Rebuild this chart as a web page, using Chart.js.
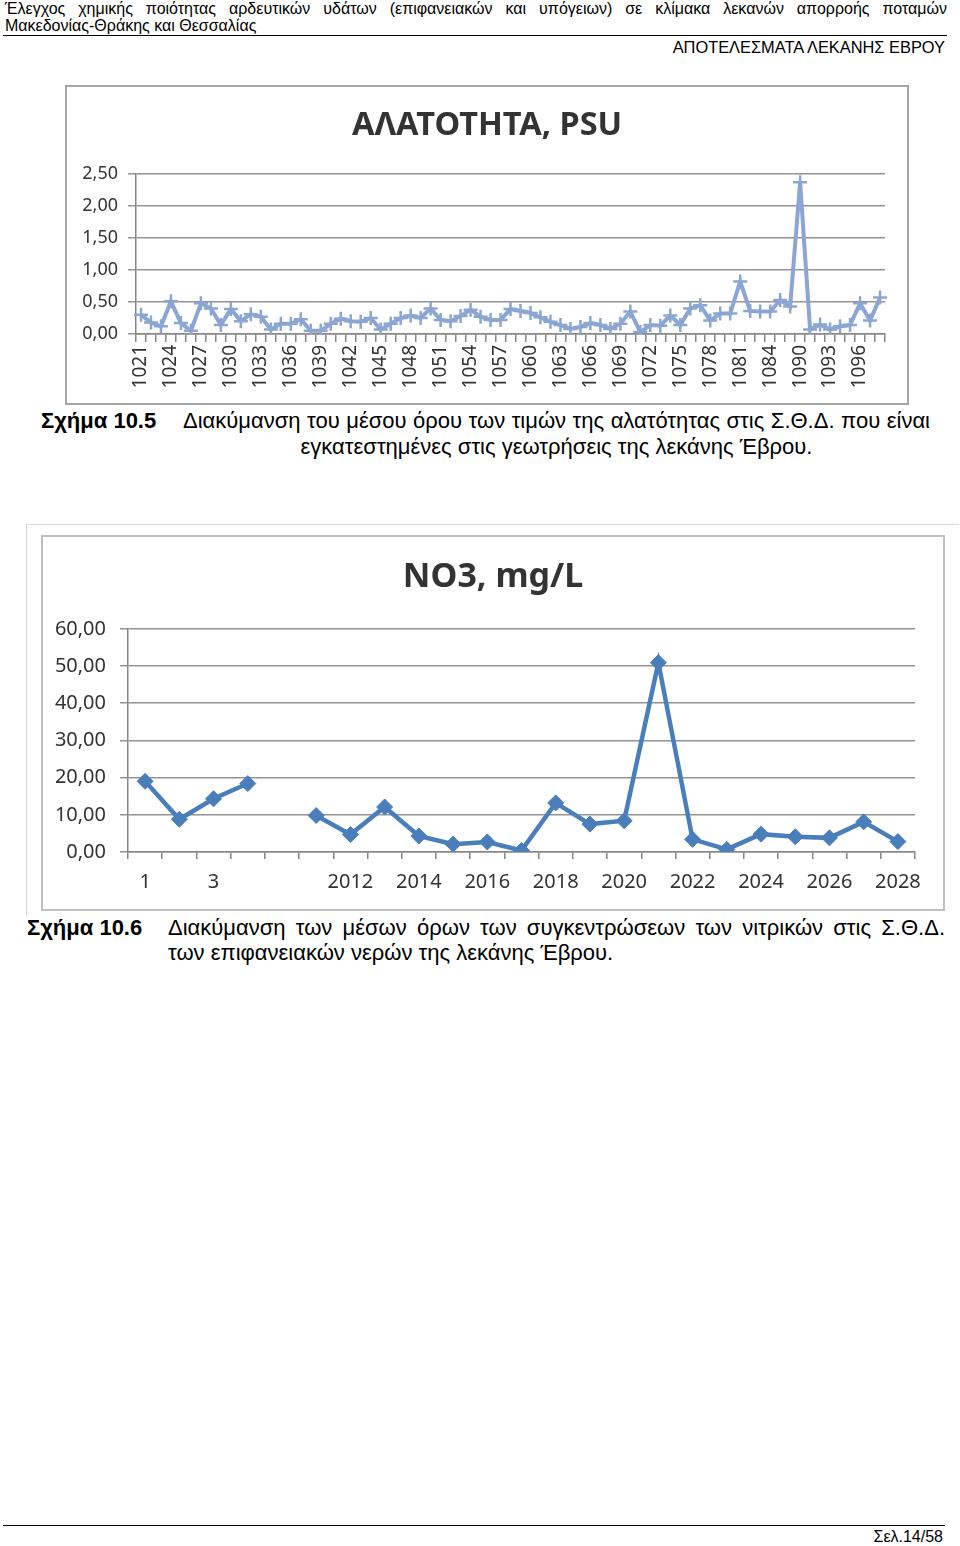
<!DOCTYPE html>
<html>
<head>
<meta charset="utf-8">
<script src="https://cdn.jsdelivr.net/npm/chart.js@4.4.1/dist/chart.umd.min.js"></script>
<style>
  html, body { margin: 0; padding: 0; background: #fff; }
  #page { position: relative; width: 960px; height: 1546px; overflow: hidden; font-family: "Liberation Sans", Arial, sans-serif; color: #000; }
  .abs { position: absolute; white-space: nowrap; }
  .just { text-align: justify; text-align-last: justify; white-space: normal; }
  canvas { position: absolute; display: block; }
</style>
</head>
<body>
<div id="page">
  <div class="abs just" style="left:5px; top:0px; width:942px; font-size:16px; line-height:17px;">Έλεγχος χημικής ποιότητας αρδευτικών υδάτων (επιφανειακών και υπόγειων) σε κλίμακα λεκανών απορροής ποταμών</div>
  <div class="abs" style="left:5px; top:17px; font-size:16px; line-height:17px;">Μακεδονίας-Θράκης και Θεσσαλίας</div>
  <div class="abs" style="left:3px; top:35px; width:944px; height:0; border-top:1px solid #000;"></div>
  <div class="abs" style="right:15px; top:39px; font-size:16.4px; line-height:17px;">ΑΠΟΤΕΛΕΣΜΑΤΑ ΛΕΚΑΝΗΣ ΕΒΡΟΥ</div>

  <!-- Chart 1 frame -->
  <div class="abs" style="left:65px; top:85px; width:840px; height:316px; border:2px solid #A6A6A6;"></div>
  <canvas id="c1" width="840" height="316" style="left:67px; top:87px;"></canvas>

  <div class="abs" style="left:41px; top:408px; font-size:22px; line-height:26px; font-weight:bold;">Σχήμα 10.5</div>
  <div class="abs" style="left:183px; top:408px; width:747px; font-size:22px; line-height:26px; white-space:normal;">
    <div style="text-align:justify; text-align-last:justify;">Διακύμανση του μέσου όρου των τιμών της αλατότητας στις Σ.Θ.Δ. που είναι</div>
    <div style="text-align:center;">εγκατεστημένες στις γεωτρήσεις της λεκάνης Έβρου.</div>
  </div>

  <!-- Chart 2 frames -->
  <div class="abs" style="left:26px; top:524px; width:932px; height:390px; border-top:1px solid #D9D9D9; border-left:1px solid #D9D9D9;"></div>
  <div class="abs" style="left:41px; top:535px; width:900px; height:372px; border:2px solid #BFBFBF;"></div>
  <canvas id="c2" width="900" height="372" style="left:43px; top:537px;"></canvas>

  <div class="abs" style="left:27px; top:915px; font-size:22px; line-height:26px; font-weight:bold;">Σχήμα 10.6</div>
  <div class="abs" style="left:168px; top:915px; width:777px; font-size:22px; line-height:25px; white-space:normal;">
    <div style="text-align:justify; text-align-last:justify;">Διακύμανση των μέσων όρων των συγκεντρώσεων των νιτρικών στις Σ.Θ.Δ.</div>
    <div style="text-align:left;">των επιφανειακών νερών της λεκάνης Έβρου.</div>
  </div>

  <div class="abs" style="left:3px; top:1525px; width:942px; height:0; border-top:1px solid #000;"></div>
  <div class="abs" style="right:17px; top:1528px; font-size:16px; line-height:18px;">Σελ.14/58</div>
</div>

<script>
// ---- Chart 1: salinity (PSU) ----
const salinityStations = [
  '1021','1022','1023','1024','1025','1026','1027','1028','1029','1030',
  '1031','1032','1033','1034','1035','1036','1037','1038','1039','1040',
  '1041','1042','1043','1044','1045','1046','1047','1048','1049','1050',
  '1051','1052','1053','1054','1055','1056','1057','1058','1059','1060',
  '1061','1062','1063','1064','1065','1066','1067','1068','1069','1070',
  '1071','1072','1073','1074','1075','1076','1077','1078','1079','1080',
  '1081','1082','1083','1084','1085','1087','1090','1091','1092','1093',
  '1094','1095','1096','1097','1098'
];
const salinityValues = [
  0.30,0.18,0.12,0.51,0.17,0.05,0.48,0.40,0.14,0.39,
  0.20,0.31,0.27,0.07,0.16,0.16,0.23,0.05,0.05,0.16,
  0.24,0.20,0.19,0.25,0.07,0.16,0.25,0.29,0.25,0.40,
  0.22,0.20,0.28,0.38,0.27,0.22,0.22,0.39,0.36,0.33,
  0.26,0.19,0.14,0.08,0.11,0.17,0.14,0.08,0.16,0.35,
  0.03,0.14,0.13,0.29,0.14,0.40,0.45,0.21,0.32,0.32,
  0.82,0.36,0.35,0.35,0.53,0.43,2.37,0.07,0.15,0.07,
  0.12,0.14,0.48,0.21,0.57
];
const salinityTicks = [0, 0.5, 1.0, 1.5, 2.0, 2.5];

// ---- Chart 2: nitrates (mg/L) ----
const no3Stations = [
  '1','2','3','4','','2011','2012','2013','2014','2015','2016','2017',
  '2018','2019','2020','2021','2022','2023','2024','2025','2026','2027','2028'
];
const no3Values = [
  19.0, 8.8, 14.3, 18.4, null, 9.8, 4.7, 12.1, 4.3, 2.1, 2.7, 0.4,
  13.2, 7.5, 8.4, 50.9, 3.4, 0.7, 4.8, 4.1, 3.8, 8.1, 2.8
];
const no3Ticks = [0, 10, 20, 30, 40, 50, 60];

const FONT = '"Noto Sans", "Open Sans", "DejaVu Sans", sans-serif';
const fmt = v => Number(v).toFixed(2).replace('.', ',');

// center the title over the whole canvas (not the padded box)
const fullWidthTitle = {
  id: 'fullWidthTitle',
  afterLayout(chart) {
    if (chart.titleBlock) { chart.titleBlock.left = 0; chart.titleBlock.right = chart.width; }
  }
};

new Chart(document.getElementById('c1'), {
  type: 'line',
  plugins: [fullWidthTitle],
  data: {
    labels: salinityStations,
    datasets: [{
      data: salinityValues,
      borderColor: '#8BA6D3',
      backgroundColor: '#8BA6D3',
      borderWidth: 4,
      pointStyle: 'cross',
      pointRadius: 7,
      pointBorderWidth: 2.5,
      tension: 0
    }]
  },
  options: {
    responsive: false, animation: false, devicePixelRatio: 1,
    layout: { padding: { left: 0, right: 22, top: 0, bottom: 0 } },
    plugins: {
      legend: { display: false }, tooltip: { enabled: false },
      title: { display: true, text: 'ΑΛΑΤΟΤΗΤΑ, PSU', color: '#333',
        font: { family: FONT, size: 32.5, weight: 'bold', lineHeight: 1.2 },
        padding: { top: 19.5, bottom: 28.5 } }
    },
    scales: {
      x: {
        offset: true,
        afterFit: s => { s.height = 69; },
        grid: { offset: true, drawOnChartArea: false, drawTicks: true, tickLength: 8, color: '#868686', lineWidth: 1.5 },
        border: { display: true, color: '#868686', width: 1.5 },
        ticks: { autoSkip: false, minRotation: 90, maxRotation: 90, padding: 3, color: '#333',
          font: { family: FONT, size: 19 },
          callback: function(v, i) { return i % 3 === 0 ? this.getLabelForValue(v) : ''; } }
      },
      y: {
        min: 0, max: 2.5,
        afterFit: s => { s.width = 69; },
        afterBuildTicks: s => { s.ticks = salinityTicks.map(v => ({ value: v })); },
        grid: { color: '#939393', lineWidth: 1.5, drawTicks: true, tickLength: 8 },
        border: { display: true, color: '#868686', width: 1.5 },
        ticks: { padding: 10, color: '#333', font: { family: FONT, size: 18 }, callback: v => fmt(v) }
      }
    }
  }
});

new Chart(document.getElementById('c2'), {
  type: 'line',
  plugins: [fullWidthTitle],
  data: {
    labels: no3Stations,
    datasets: [{
      data: no3Values,
      borderColor: '#4A7EBB',
      backgroundColor: '#4A7EBB',
      borderWidth: 4.5,
      pointStyle: 'rectRot',
      pointRadius: 8,
      pointBorderWidth: 1,
      spanGaps: false,
      tension: 0
    }]
  },
  options: {
    responsive: false, animation: false, devicePixelRatio: 1,
    layout: { padding: { left: 0, right: 28, top: 0, bottom: 0 } },
    plugins: {
      legend: { display: false }, tooltip: { enabled: false },
      title: { display: true, text: 'NO3, mg/L', color: '#333',
        font: { family: FONT, size: 34, weight: 'bold', lineHeight: 1.2 },
        padding: { top: 20, bottom: 31 } }
    },
    scales: {
      x: {
        offset: true,
        afterFit: s => { s.height = 57; },
        grid: { offset: true, drawOnChartArea: false, drawTicks: true, tickLength: 7, color: '#868686', lineWidth: 1.5 },
        border: { display: true, color: '#868686', width: 1.5 },
        ticks: { autoSkip: false, maxRotation: 0, minRotation: 0, padding: 11, color: '#333',
          font: { family: FONT, size: 20 },
          callback: function(v, i) { return i % 2 === 0 ? this.getLabelForValue(v) : ''; } }
      },
      y: {
        min: 0, max: 60,
        afterFit: s => { s.width = 85; },
        afterBuildTicks: s => { s.ticks = no3Ticks.map(v => ({ value: v })); },
        grid: { color: '#939393', lineWidth: 1.5, drawTicks: true, tickLength: 8 },
        border: { display: true, color: '#868686', width: 1.5 },
        ticks: { padding: 14, color: '#333', font: { family: FONT, size: 20 }, callback: v => fmt(v) }
      }
    }
  }
});
</script>
</body>
</html>
